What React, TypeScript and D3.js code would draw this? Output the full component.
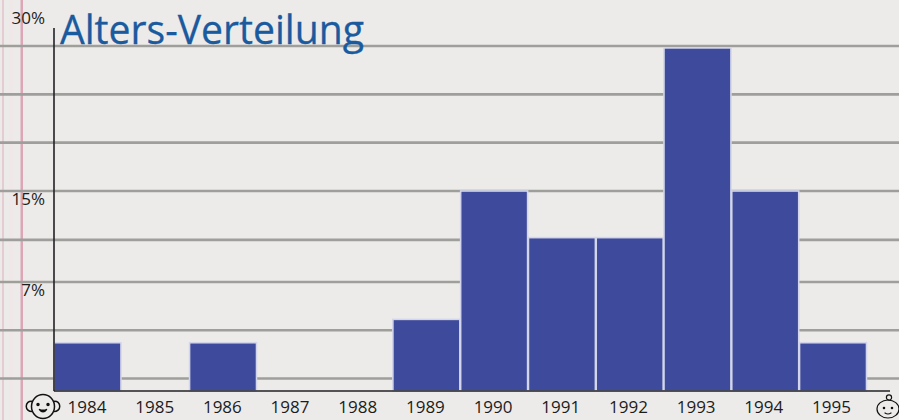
import React from "react";
import * as d3 from "d3";

const years = [1984, 1985, 1986, 1987, 1988, 1989, 1990, 1991, 1992, 1993, 1994, 1995];
const shares = [3.1, 0, 3.1, 0, 0, 4.6, 15, 10.9, 10.9, 29.8, 15, 3.1];
const gridValues = [30, 25, 20, 15, 10.7, 7, 3.9, 0.8];
const tickValues = [30, 15, 7];

const W = 899;
const H = 420;
const BASE = 391;
const BG = "#ecebea";
const BAR = "#3e4a9c";
const INK = "#222226";

// The printed axis is hand-spaced, so the scale is piecewise through its labelled stops.
const y = d3.scaleLinear().domain([0, 7, 15, 30]).range([BASE, 282, 191, 46]);
const x = d3.scaleBand<number>().domain(years).range([54, 866.5]).paddingInner(0.012);
const labelX = d3.scaleLinear().domain([1984, 1995]).range([87, 831.5]);
const tickShift = (v: number) => (v === 30 ? -28 : 8);

function OldFace({ cx, cy }: { cx: number; cy: number }) {
  return (
    <g transform={`translate(${cx},${cy})`} fill="none" stroke="#111" strokeWidth={1.5} strokeLinecap="round">
      <path d="M-10,-5 C-19,-7 -19,6 -10,5" fill={BG} />
      <path d="M10,-5 C19,-7 19,6 10,5" fill={BG} />
      <ellipse cx={0} cy={0} rx={11.5} ry={12} fill={BG} />
      <circle cx={-5} cy={-2} r={1} fill="#111" />
      <circle cx={5} cy={-2} r={1} fill="#111" />
      <path d="M-3.5,3 Q0,7.5 3.5,3" fill="#111" />
    </g>
  );
}

function BabyFace({ cx, cy }: { cx: number; cy: number }) {
  return (
    <g transform={`translate(${cx},${cy})`} fill="none" stroke="#111" strokeWidth={1.2} strokeLinecap="round">
      <ellipse cx={0} cy={3} rx={11} ry={9} fill={BG} />
      <circle cx={1} cy={-8.5} r={2.6} />
      <circle cx={-4} cy={2} r={0.7} fill="#111" />
      <circle cx={4} cy={2} r={0.7} fill="#111" />
      <path d="M-3,7 Q0,9 3,7" />
    </g>
  );
}

export default function App() {
  return (
    <svg
      width={W}
      height={H}
      viewBox={`0 0 ${W} ${H}`}
      style={{ position: "absolute", left: 0, top: 0, display: "block" }}
      fontFamily="'Open Sans', sans-serif"
    >
      <rect width={W} height={H} fill={BG} />

      {/* notebook margin */}
      <rect x={2} y={0} width={2} height={H} fill="#e5ccd2" />
      <rect x={9} y={0} width={4} height={H} fill="#f0e8e8" />
      <rect x={20.5} y={0} width={2.5} height={H} fill="#dca6b6" />

      {gridValues.map((v) => (
        <line key={v} x1={0} x2={W} y1={y(v)} y2={y(v)} stroke="#9e9e9a" strokeWidth={2.6} />
      ))}

      {years.map((yr, i) =>
        shares[i] > 0 ? (
          <rect
            key={yr}
            x={x(yr)!}
            y={y(shares[i])}
            width={x.bandwidth()}
            height={BASE - y(shares[i])}
            fill={BAR}
            stroke="#d3d6ea"
            strokeWidth={1.6}
          />
        ) : null
      )}

      {/* axes */}
      <line x1={54} x2={54} y1={28} y2={BASE} stroke={INK} strokeWidth={1.6} />
      <line x1={54} x2={890} y1={BASE} y2={BASE} stroke={INK} strokeWidth={1.6} />

      {tickValues.map((v) => (
        <text
          key={v}
          x={45}
          y={y(v) + tickShift(v)}
          dy="0.35em"
          textAnchor="end"
          fontSize={17}
          fill="#1c1c1c"
        >
          {v}%
        </text>
      ))}

      {years.map((yr) => (
        <text key={yr} x={labelX(yr)} y={407} dy="0.35em" textAnchor="middle" fontSize={17} fill="#1c1c1c">
          {yr}
        </text>
      ))}

      <text x={60} y={44} fontSize={40} fill="#1a5a9e" stroke="#1a5a9e" strokeWidth={0.3} textLength={304} lengthAdjust="spacingAndGlyphs">
        Alters-Verteilung
      </text>

      <OldFace cx={43} cy={406.5} />
      <BabyFace cx={888} cy={406} />
    </svg>
  );
}
